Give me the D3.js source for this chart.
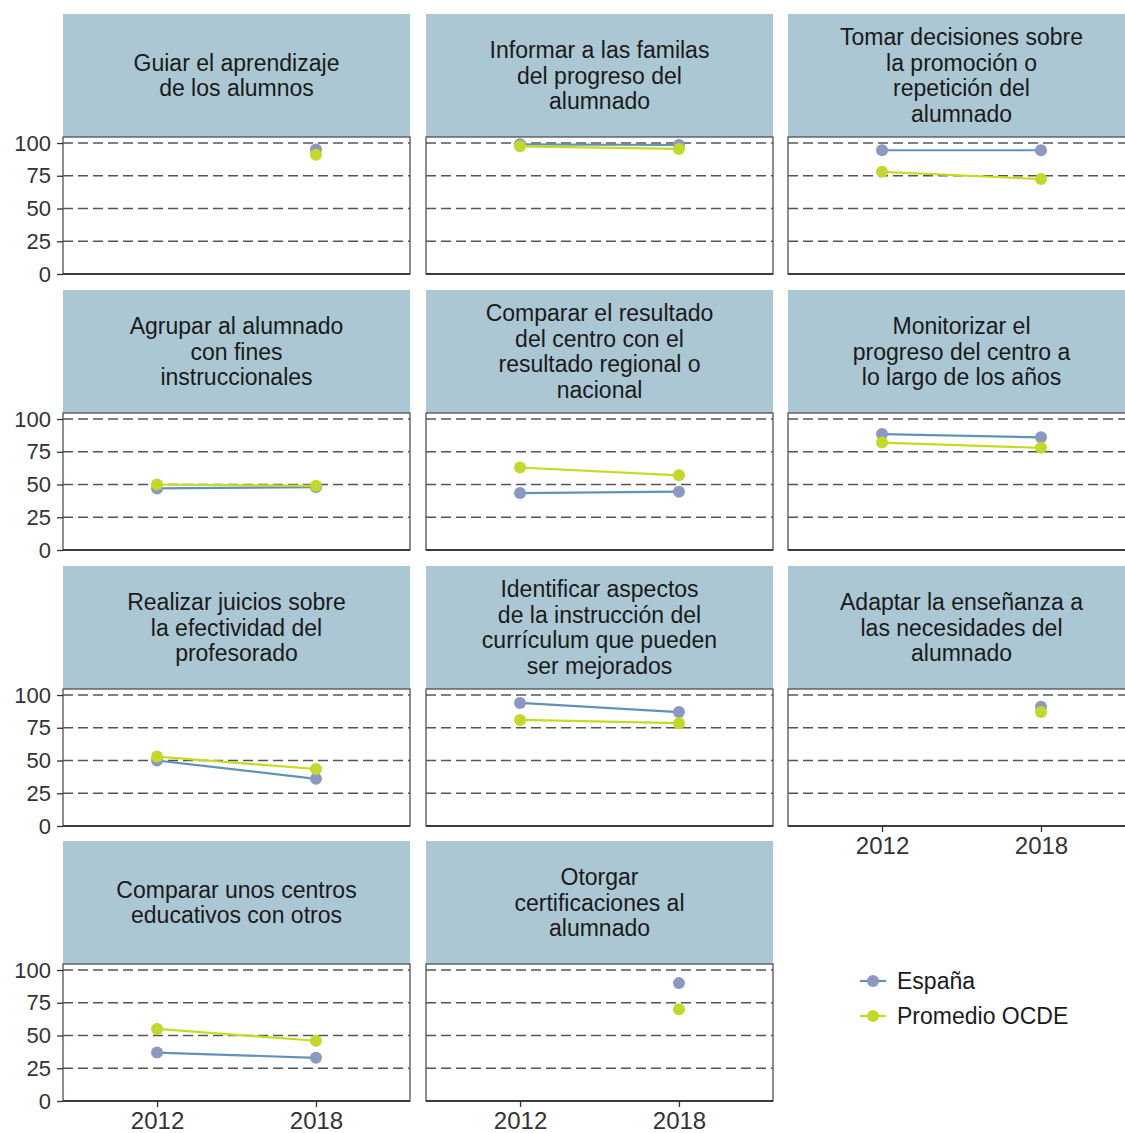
<!DOCTYPE html>
<html>
  <head>
    <script src="https://d3js.org/d3.v7.min.js"></script>
    <style>
    body { margin: 0; background: #fff; }
    svg { font-family: "Liberation Sans", Arial, sans-serif; }
    .strip-text { font-size: 23px; fill: #1a1a1a; }
    .axis text { fill: #333; }
    .y.axis text { font-size: 22px; }
    .x.axis text { font-size: 24px; }
    .axis path, .axis line { stroke: #333; stroke-width: 1.3; }
    .grid line { stroke: #555; stroke-dasharray: 10,5; stroke-width: 1.4; }
    </style>
  </head>
  <body>
    <script>

    // facet titles (line breaks as in the picture)
    var titles = [
      ["Guiar el aprendizaje", "de los alumnos"],
      ["Informar a las familas", "del progreso del", "alumnado"],
      ["Tomar decisiones sobre", "la promoción o", "repetición del", "alumnado"],
      ["Agrupar al alumnado", "con fines", "instruccionales"],
      ["Comparar el resultado", "del centro con el", "resultado regional o", "nacional"],
      ["Monitorizar el", "progreso del centro a", "lo largo de los años"],
      ["Realizar juicios sobre", "la efectividad del", "profesorado"],
      ["Identificar aspectos", "de la instrucción del", "currículum que pueden", "ser mejorados"],
      ["Adaptar la enseñanza a", "las necesidades del", "alumnado"],
      ["Comparar unos centros", "educativos con otros"],
      ["Otorgar", "certificaciones al", "alumnado"]
    ];

    var years = [2012, 2018];
    var series = ["España", "Promedio OCDE"];

    // values per facet, null where no data
    var espana2012 = [null, 99, 94.5, 47, 43.5, 88.5, 50, 94, null, 37, null];
    var espana2018 = [95, 98.5, 94.5, 48, 44.5, 86, 36, 87, 91, 33, 90];
    var ocde2012 = [null, 97.5, 78, 50, 63, 82, 53, 81, null, 55, null];
    var ocde2018 = [91, 95.5, 72.5, 49, 57, 78, 43.5, 78.5, 87, 46, 70];

    var yTicks = [0, 25, 50, 75, 100];

    var w = 1125, h = 1133;
    var panelW = 347, stripH = 123, plotH = 137;
    var colX = [63, 426, 788];
    var rowY = [14, 290, 566, 841];

    var lineColor = { "España": "#5f93b8", "Promedio OCDE": "#c9da1e" };
    var pointColor = { "España": "#8b98c2", "Promedio OCDE": "#c2d82a" };

    var svg = d3.select("body").append("svg")
      .attr("width", w)
      .attr("height", h);

    var x = d3.scaleLinear().domain([2008.45, 2021.55]).range([0, panelW]);
    var y = d3.scaleLinear().domain([0, 104.6]).range([plotH, 0]);

    var lineGen = d3.line()
      .defined(function(d) { return d.v != null; })
      .x(function(d) { return x(d.year); })
      .y(function(d) { return y(d.v); });

    titles.forEach(function(t, i) {
      var col = i % 3, row = Math.floor(i / 3);
      var g = svg.append("g")
        .attr("transform", "translate(" + colX[col] + "," + rowY[row] + ")");

      // strip
      g.append("rect")
        .attr("width", panelW).attr("height", stripH)
        .attr("fill", "#abc7d3");
      var lh = 25.5;
      var y0 = stripH / 2 - (t.length - 1) * lh / 2 + 8;
      g.append("text")
        .attr("class", "strip-text")
        .attr("text-anchor", "middle")
        .selectAll("tspan")
        .data(t)
        .enter().append("tspan")
        .attr("x", panelW / 2)
        .attr("y", function(d, k) { return y0 + k * lh; })
        .text(function(d) { return d; });

      var p = g.append("g").attr("transform", "translate(0," + stripH + ")");

      p.append("rect")
        .attr("width", panelW).attr("height", plotH)
        .attr("fill", "#fff").attr("stroke", "#444").attr("stroke-width", 1.2);

      p.append("g").attr("class", "grid")
        .selectAll("line")
        .data(yTicks.slice(1))
        .enter().append("line")
        .attr("x1", 0).attr("x2", panelW)
        .attr("y1", function(d) { return y(d); })
        .attr("y2", function(d) { return y(d); });

      var vals = {
        "España": [espana2012[i], espana2018[i]],
        "Promedio OCDE": [ocde2012[i], ocde2018[i]]
      };

      series.forEach(function(s) {
        var pts = years.map(function(yr, k) { return { year: yr, v: vals[s][k] }; });
        p.append("path")
          .datum(pts)
          .attr("fill", "none")
          .attr("stroke", lineColor[s])
          .attr("stroke-width", 2.2)
          .attr("d", lineGen);
      });
      series.forEach(function(s) {
        var pts = years.map(function(yr, k) { return { year: yr, v: vals[s][k] }; })
          .filter(function(d) { return d.v != null; });
        p.selectAll(null)
          .data(pts)
          .enter().append("circle")
          .attr("cx", function(d) { return x(d.year); })
          .attr("cy", function(d) { return y(d.v); })
          .attr("r", 6)
          .attr("fill", pointColor[s]);
      });

      // bottom line
      p.append("line")
        .attr("x1", 0).attr("x2", panelW)
        .attr("y1", plotH).attr("y2", plotH)
        .attr("stroke", "#222").attr("stroke-width", 1.6);

      if (col === 0) {
        p.append("g").attr("class", "y axis")
          .call(d3.axisLeft(y).tickValues(yTicks).tickSize(6).tickPadding(6))
          .call(function(a) { a.select(".domain").remove(); });
      }
      if (i >= 8) {
        p.append("g").attr("class", "x axis")
          .attr("transform", "translate(0," + plotH + ")")
          .call(d3.axisBottom(x).tickValues(years).tickFormat(d3.format("d")).tickSize(6).tickPadding(5))
          .call(function(a) { a.select(".domain").remove(); });
      }
    });

    // legend
    var leg = svg.append("g").attr("transform", "translate(860,981)");
    series.forEach(function(s, k) {
      var lg = leg.append("g").attr("transform", "translate(0," + (k * 35) + ")");
      lg.append("line").attr("x1", 0).attr("x2", 26)
        .attr("stroke", lineColor[s]).attr("stroke-width", 2.2);
      lg.append("circle").attr("cx", 13).attr("r", 6).attr("fill", pointColor[s]);
      lg.append("text").attr("x", 37).attr("dy", "0.35em")
        .attr("font-size", 23).attr("fill", "#1a1a1a").text(s);
    });

    </script>
  </body>
</html>
